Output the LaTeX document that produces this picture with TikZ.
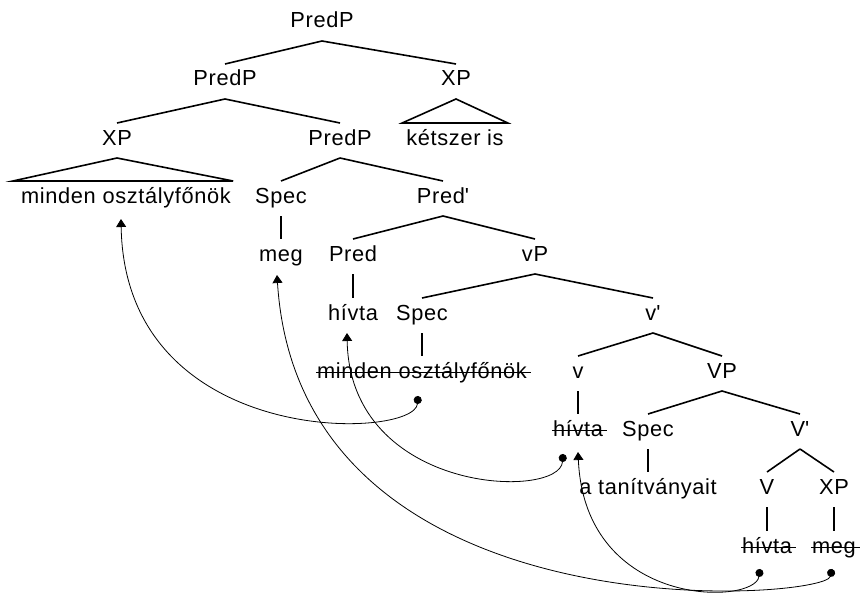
\documentclass[tikz,border=0pt]{standalone}
\usepackage{fontspec}
\setmainfont{Liberation Sans}[LetterSpace=3]
\usetikzlibrary{arrows.meta,calc}
\newcommand\treeedge[2]{\draw[branch] ([yshift=-13pt]#1.base) -- ([yshift=22pt]#2.base);}
\newcommand\strikeout[1]{\draw[strike] ([xshift=-1pt,yshift=5.5pt]#1.base west) -- ([xshift=4pt,yshift=5.5pt]#1.base east);}
\begin{document}
\begin{tikzpicture}[x=1pt,y=-1pt,
  lab/.style={anchor=base,inner sep=0pt,font=\fontsize{21.8}{24}\selectfont},
  branch/.style={line width=1.6pt},
  strike/.style={line width=1.1pt},
  move/.style={line width=0.8pt,{Circle[length=8pt]}-{Triangle[width=10pt,length=8pt]}},
]
\useasboundingbox (0,0) rectangle (861,599);

% row 0
\node[lab] (predp0) at (322,28) {PredP};
% row 1
\node[lab] (predp1) at (225,86) {PredP};
\node[lab] (xpA) at (456,86) {XP};
% row 2
\node[lab] (xpB) at (117,145) {XP};
\node[lab] (predp2) at (340,145) {PredP};
\node[lab] (kets) at (455,145) {kétszer is};
% row 3
\node[lab] (mo1) at (126,203) {minden osztályfőnök};
\node[lab] (spec3) at (281,203) {Spec};
\node[lab] (predb) at (443,203) {Pred\textquotesingle};
% row 4
\node[lab] (meg4) at (281,261) {meg};
\node[lab] (pred4) at (353,261) {Pred};
\node[lab] (vp4) at (535,261) {vP};
% row 5
\node[lab] (hivta5) at (353,320) {hívta};
\node[lab] (spec5) at (422,320) {Spec};
\node[lab] (vbar) at (653,320) {v\textquotesingle};
% row 6
\node[lab] (mo2) at (422,378) {minden osztályfőnök};
\node[lab] (v6) at (578,378) {v};
\node[lab] (vp6) at (722,378) {VP};
% row 7
\node[lab] (hivta7) at (578,436) {hívta};
\node[lab] (spec7) at (648,436) {Spec};
\node[lab] (vbarB) at (800,436) {V\textquotesingle};
% row 8
\node[lab] (tan) at (648,494) {a tanítványait};
\node[lab] (v8) at (767,494) {V};
\node[lab] (xp8) at (834,494) {XP};
% row 9
\node[lab] (hivta9) at (767,553) {hívta};
\node[lab] (meg9) at (834,553) {meg};

% tree branches
\treeedge{predp0}{predp1}
\treeedge{predp0}{xpA}
\treeedge{predp1}{xpB}
\treeedge{predp1}{predp2}
\treeedge{predp2}{spec3}
\treeedge{predp2}{predb}
\treeedge{spec3}{meg4}
\treeedge{predb}{pred4}
\treeedge{predb}{vp4}
\treeedge{pred4}{hivta5}
\treeedge{vp4}{spec5}
\treeedge{vp4}{vbar}
\treeedge{spec5}{mo2}
\treeedge{vbar}{v6}
\treeedge{vbar}{vp6}
\treeedge{v6}{hivta7}
\treeedge{vp6}{spec7}
\treeedge{vp6}{vbarB}
\treeedge{spec7}{tan}
\treeedge{vbarB}{v8}
\treeedge{vbarB}{xp8}
\treeedge{v8}{hivta9}
\treeedge{xp8}{meg9}

% triangles over unanalysed phrases
\draw[branch,line join=miter] ([yshift=-13pt]xpA.base) -- ([xshift=-4pt,yshift=22pt]kets.base west) -- ([xshift=4pt,yshift=22pt]kets.base east) -- cycle;
\draw[branch,line join=miter] ([yshift=-13pt]xpB.base) -- ([xshift=-8pt,yshift=22pt]mo1.base west) -- ([xshift=2pt,yshift=22pt]mo1.base east) -- cycle;

% deleted copies
\strikeout{mo2}
\strikeout{hivta7}
\strikeout{hivta9}
\strikeout{meg9}

% movement arrows
\draw[move] ($(mo2.base)+(-4,18)$) .. controls (415,440) and (125,450) .. ($(mo1.base)+(-5,16)$);
\draw[move] ($(hivta7.base)+(-15,18)$) .. controls (560,500) and (350,495) .. ($(hivta5.base)+(-6,13)$);
\draw[move] ($(hivta9.base)+(-7,16)$) .. controls (755,605) and (585,610) .. ($(hivta7.base)+(0,16)$);
\draw[move] ($(meg9.base)+(-2,16)$) .. controls (825,600) and (300,640) .. ($(meg4.base)+(-4,14)$);
\end{tikzpicture}
\end{document}
